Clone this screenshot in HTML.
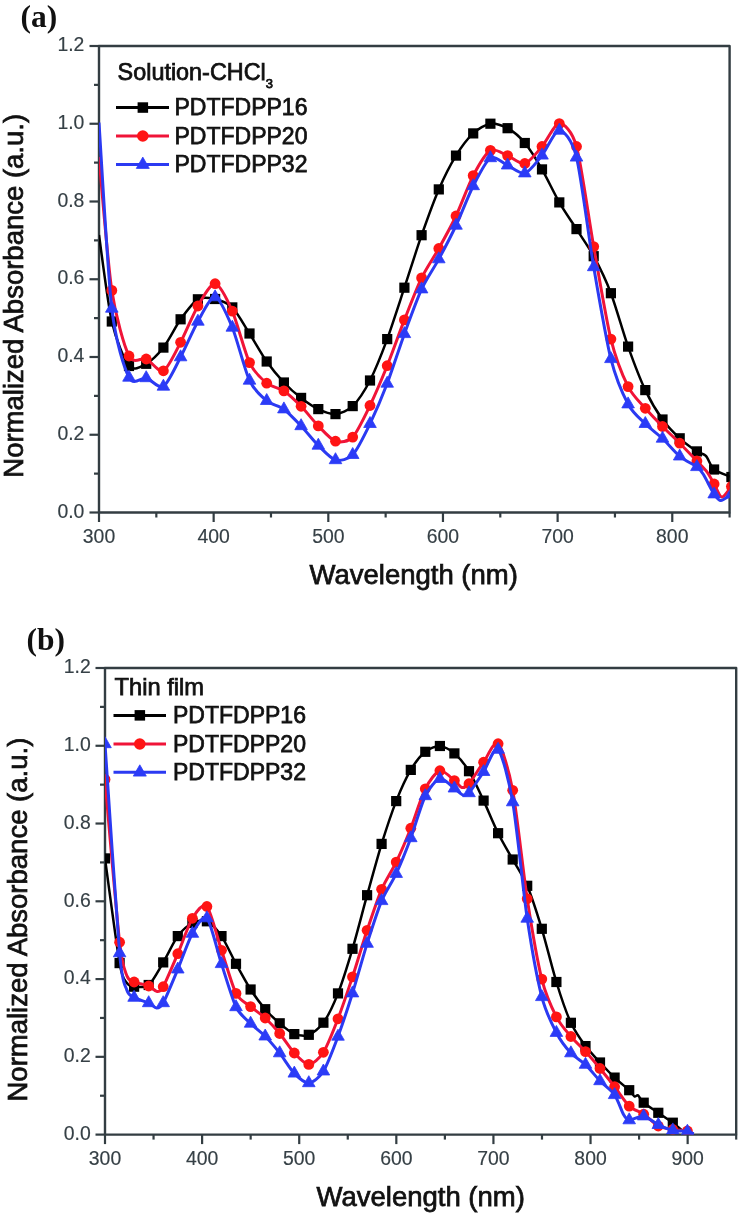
<!DOCTYPE html>
<html><head><meta charset="utf-8"><style>
html,body{margin:0;padding:0;background:#fff;}
svg{display:block;filter:blur(0.45px);}
text{font-family:"Liberation Sans",sans-serif;}
.tk{font-size:19.4px;fill:#364046;stroke:#364046;stroke-width:0.15px;}
.at{font-size:27.5px;fill:#111;stroke:#111;stroke-width:0.75px;}
.lg{font-size:23px;fill:#111;stroke:#111;stroke-width:0.75px;}
.pl{font-family:"Liberation Serif",serif;font-weight:bold;font-size:31.5px;fill:#111;}
</style></head><body>
<svg width="742" height="1216" viewBox="0 0 742 1216">
<rect width="742" height="1216" fill="#fff"/>
<clipPath id="ca"><rect x="99" y="36" width="630.6" height="476.5"/></clipPath>
<line x1="89.5" y1="512.50" x2="99" y2="512.50" stroke="#333d42" stroke-width="2.2"/>
<text x="84.4" y="517.70" text-anchor="end" class="tk">0.0</text>
<line x1="94" y1="473.62" x2="99" y2="473.62" stroke="#333d42" stroke-width="2.2"/>
<line x1="89.5" y1="434.75" x2="99" y2="434.75" stroke="#333d42" stroke-width="2.2"/>
<text x="84.4" y="439.95" text-anchor="end" class="tk">0.2</text>
<line x1="94" y1="395.88" x2="99" y2="395.88" stroke="#333d42" stroke-width="2.2"/>
<line x1="89.5" y1="357.00" x2="99" y2="357.00" stroke="#333d42" stroke-width="2.2"/>
<text x="84.4" y="362.20" text-anchor="end" class="tk">0.4</text>
<line x1="94" y1="318.12" x2="99" y2="318.12" stroke="#333d42" stroke-width="2.2"/>
<line x1="89.5" y1="279.25" x2="99" y2="279.25" stroke="#333d42" stroke-width="2.2"/>
<text x="84.4" y="284.45" text-anchor="end" class="tk">0.6</text>
<line x1="94" y1="240.38" x2="99" y2="240.38" stroke="#333d42" stroke-width="2.2"/>
<line x1="89.5" y1="201.50" x2="99" y2="201.50" stroke="#333d42" stroke-width="2.2"/>
<text x="84.4" y="206.70" text-anchor="end" class="tk">0.8</text>
<line x1="94" y1="162.62" x2="99" y2="162.62" stroke="#333d42" stroke-width="2.2"/>
<line x1="89.5" y1="123.75" x2="99" y2="123.75" stroke="#333d42" stroke-width="2.2"/>
<text x="84.4" y="128.95" text-anchor="end" class="tk">1.0</text>
<line x1="94" y1="84.87" x2="99" y2="84.87" stroke="#333d42" stroke-width="2.2"/>
<line x1="89.5" y1="46.00" x2="99" y2="46.00" stroke="#333d42" stroke-width="2.2"/>
<text x="84.4" y="51.20" text-anchor="end" class="tk">1.2</text>
<line x1="99.00" y1="512.5" x2="99.00" y2="522.0" stroke="#333d42" stroke-width="2.2"/>
<text x="99.00" y="543.2" text-anchor="middle" class="tk">300</text>
<line x1="156.33" y1="512.5" x2="156.33" y2="517.5" stroke="#333d42" stroke-width="2.2"/>
<line x1="213.65" y1="512.5" x2="213.65" y2="522.0" stroke="#333d42" stroke-width="2.2"/>
<text x="213.65" y="543.2" text-anchor="middle" class="tk">400</text>
<line x1="270.98" y1="512.5" x2="270.98" y2="517.5" stroke="#333d42" stroke-width="2.2"/>
<line x1="328.31" y1="512.5" x2="328.31" y2="522.0" stroke="#333d42" stroke-width="2.2"/>
<text x="328.31" y="543.2" text-anchor="middle" class="tk">500</text>
<line x1="385.64" y1="512.5" x2="385.64" y2="517.5" stroke="#333d42" stroke-width="2.2"/>
<line x1="442.96" y1="512.5" x2="442.96" y2="522.0" stroke="#333d42" stroke-width="2.2"/>
<text x="442.96" y="543.2" text-anchor="middle" class="tk">600</text>
<line x1="500.29" y1="512.5" x2="500.29" y2="517.5" stroke="#333d42" stroke-width="2.2"/>
<line x1="557.62" y1="512.5" x2="557.62" y2="522.0" stroke="#333d42" stroke-width="2.2"/>
<text x="557.62" y="543.2" text-anchor="middle" class="tk">700</text>
<line x1="614.95" y1="512.5" x2="614.95" y2="517.5" stroke="#333d42" stroke-width="2.2"/>
<line x1="672.27" y1="512.5" x2="672.27" y2="522.0" stroke="#333d42" stroke-width="2.2"/>
<text x="672.27" y="543.2" text-anchor="middle" class="tk">800</text>
<line x1="729.60" y1="512.5" x2="729.60" y2="517.5" stroke="#333d42" stroke-width="2.2"/>
<rect x="99" y="46" width="630.6" height="466.5" fill="none" stroke="#333d42" stroke-width="2.4" stroke-linejoin="round"/>
<g clip-path="url(#ca)"><path d="M99.0,235.0 C100.7,246.5 107.8,304.0 111.8,321.5 C115.8,339.0 124.4,360.4 129.0,366.0 C133.6,371.6 141.6,366.3 146.2,363.8 C150.8,361.3 158.8,353.5 163.4,347.6 C168.0,341.7 176.1,325.7 180.6,319.3 C185.2,312.9 193.3,302.0 197.9,299.3 C202.4,296.6 210.5,297.9 215.1,299.0 C219.6,300.1 227.7,302.8 232.3,307.4 C236.9,312.0 244.9,326.3 249.5,333.5 C254.1,340.7 262.1,355.0 266.7,361.5 C271.3,368.0 279.3,377.6 283.9,382.5 C288.5,387.4 296.5,394.4 301.1,397.9 C305.7,401.4 313.7,406.9 318.3,409.1 C322.9,411.3 330.9,414.5 335.5,414.1 C340.1,413.7 348.2,410.6 352.7,406.1 C357.3,401.6 365.4,389.4 370.0,380.5 C374.5,371.6 382.6,351.5 387.2,339.1 C391.7,326.7 399.8,301.6 404.4,287.7 C409.0,273.8 417.0,248.3 421.6,235.2 C426.2,222.1 434.2,200.0 438.8,189.4 C443.4,178.8 451.4,163.1 456.0,155.6 C460.6,148.1 468.6,137.7 473.2,133.4 C477.8,129.1 485.8,124.4 490.4,123.7 C495.0,123.0 503.0,125.6 507.6,128.2 C512.2,130.8 520.3,137.5 524.8,143.0 C529.4,148.5 537.5,161.5 542.0,169.4 C546.6,177.3 554.7,194.4 559.3,202.4 C563.8,210.4 571.9,221.9 576.5,229.1 C581.1,236.3 589.1,247.7 593.7,256.2 C598.3,264.7 606.3,281.1 610.9,293.2 C615.5,305.3 623.5,333.7 628.1,346.6 C632.7,359.5 640.7,380.4 645.3,390.1 C649.9,399.8 657.9,413.1 662.5,419.5 C667.1,425.9 675.1,434.0 679.7,438.3 C684.3,442.6 693.5,449.1 696.9,451.4 C700.4,453.7 703.6,453.5 705.9,455.9 C708.2,458.3 710.8,466.7 714.1,469.5 C717.5,472.3 729.1,476.0 731.4,477.0" fill="none" stroke="#000000" stroke-width="2.5" stroke-linejoin="round"/>
<rect x="106.7" y="316.4" width="10.2" height="10.2" fill="#000000"/>
<rect x="123.9" y="360.9" width="10.2" height="10.2" fill="#000000"/>
<rect x="141.1" y="358.7" width="10.2" height="10.2" fill="#000000"/>
<rect x="158.3" y="342.5" width="10.2" height="10.2" fill="#000000"/>
<rect x="175.5" y="314.2" width="10.2" height="10.2" fill="#000000"/>
<rect x="192.8" y="294.2" width="10.2" height="10.2" fill="#000000"/>
<rect x="210.0" y="293.9" width="10.2" height="10.2" fill="#000000"/>
<rect x="227.2" y="302.3" width="10.2" height="10.2" fill="#000000"/>
<rect x="244.4" y="328.4" width="10.2" height="10.2" fill="#000000"/>
<rect x="261.6" y="356.4" width="10.2" height="10.2" fill="#000000"/>
<rect x="278.8" y="377.4" width="10.2" height="10.2" fill="#000000"/>
<rect x="296.0" y="392.8" width="10.2" height="10.2" fill="#000000"/>
<rect x="313.2" y="404.0" width="10.2" height="10.2" fill="#000000"/>
<rect x="330.4" y="409.0" width="10.2" height="10.2" fill="#000000"/>
<rect x="347.6" y="401.0" width="10.2" height="10.2" fill="#000000"/>
<rect x="364.9" y="375.4" width="10.2" height="10.2" fill="#000000"/>
<rect x="382.1" y="334.0" width="10.2" height="10.2" fill="#000000"/>
<rect x="399.3" y="282.6" width="10.2" height="10.2" fill="#000000"/>
<rect x="416.5" y="230.1" width="10.2" height="10.2" fill="#000000"/>
<rect x="433.7" y="184.3" width="10.2" height="10.2" fill="#000000"/>
<rect x="450.9" y="150.5" width="10.2" height="10.2" fill="#000000"/>
<rect x="468.1" y="128.3" width="10.2" height="10.2" fill="#000000"/>
<rect x="485.3" y="118.6" width="10.2" height="10.2" fill="#000000"/>
<rect x="502.5" y="123.1" width="10.2" height="10.2" fill="#000000"/>
<rect x="519.7" y="137.9" width="10.2" height="10.2" fill="#000000"/>
<rect x="536.9" y="164.3" width="10.2" height="10.2" fill="#000000"/>
<rect x="554.2" y="197.3" width="10.2" height="10.2" fill="#000000"/>
<rect x="571.4" y="224.0" width="10.2" height="10.2" fill="#000000"/>
<rect x="588.6" y="251.1" width="10.2" height="10.2" fill="#000000"/>
<rect x="605.8" y="288.1" width="10.2" height="10.2" fill="#000000"/>
<rect x="623.0" y="341.5" width="10.2" height="10.2" fill="#000000"/>
<rect x="640.2" y="385.0" width="10.2" height="10.2" fill="#000000"/>
<rect x="657.4" y="414.4" width="10.2" height="10.2" fill="#000000"/>
<rect x="674.6" y="433.2" width="10.2" height="10.2" fill="#000000"/>
<rect x="691.8" y="446.3" width="10.2" height="10.2" fill="#000000"/>
<rect x="709.0" y="464.4" width="10.2" height="10.2" fill="#000000"/>
<rect x="726.3" y="471.9" width="10.2" height="10.2" fill="#000000"/></g>
<g clip-path="url(#ca)"><path d="M99.0,157.0 C100.7,174.8 107.8,263.9 111.8,290.4 C115.8,316.9 124.4,346.9 129.0,356.0 C133.6,365.1 141.6,357.0 146.2,359.0 C150.8,361.0 158.8,373.0 163.4,370.8 C168.0,368.6 176.1,350.9 180.6,342.3 C185.2,333.7 193.3,313.8 197.9,306.0 C202.4,298.2 210.5,283.0 215.1,283.7 C219.6,284.4 227.7,300.6 232.3,311.1 C236.9,321.6 244.9,353.0 249.5,362.6 C254.1,372.2 262.1,379.4 266.7,383.2 C271.3,387.0 279.3,387.8 283.9,390.9 C288.5,394.0 296.5,401.6 301.1,406.3 C305.7,411.0 313.7,421.2 318.3,425.9 C322.9,430.6 330.9,439.7 335.5,441.2 C340.1,442.7 348.2,441.9 352.7,437.1 C357.3,432.3 365.4,415.0 370.0,405.5 C374.5,396.0 382.6,377.1 387.2,365.7 C391.7,354.3 399.8,331.6 404.4,319.9 C409.0,308.2 417.0,287.4 421.6,277.9 C426.2,268.4 434.2,256.8 438.8,248.5 C443.4,240.2 451.4,225.7 456.0,216.0 C460.6,206.3 468.6,184.3 473.2,175.6 C477.8,166.9 485.8,153.1 490.4,150.4 C495.0,147.7 503.0,153.9 507.6,155.6 C512.2,157.3 520.3,164.7 524.8,163.5 C529.4,162.3 537.5,151.8 542.0,146.5 C546.6,141.2 554.7,123.6 559.3,123.6 C563.8,123.6 571.9,130.1 576.5,146.5 C581.1,162.9 589.1,220.9 593.7,246.6 C598.3,272.3 606.3,320.4 610.9,339.1 C615.5,357.8 623.5,377.4 628.1,386.6 C632.7,395.8 640.7,403.0 645.3,408.3 C649.9,413.6 657.9,421.8 662.5,426.5 C667.1,431.2 675.1,438.6 679.7,443.2 C684.3,447.8 693.3,457.2 696.9,461.0 C700.5,464.8 704.5,468.6 706.8,471.7 C709.1,474.8 712.2,480.6 714.1,484.0 C716.1,487.4 719.4,496.8 721.7,497.1 C724.0,497.4 730.1,488.0 731.4,486.6" fill="none" stroke="#f01438" stroke-width="3.0" stroke-linejoin="round"/>
<circle cx="111.8" cy="290.4" r="5.4" fill="#ff1414"/>
<circle cx="129.0" cy="356.0" r="5.4" fill="#ff1414"/>
<circle cx="146.2" cy="359.0" r="5.4" fill="#ff1414"/>
<circle cx="163.4" cy="370.8" r="5.4" fill="#ff1414"/>
<circle cx="180.6" cy="342.3" r="5.4" fill="#ff1414"/>
<circle cx="197.9" cy="306.0" r="5.4" fill="#ff1414"/>
<circle cx="215.1" cy="283.7" r="5.4" fill="#ff1414"/>
<circle cx="232.3" cy="311.1" r="5.4" fill="#ff1414"/>
<circle cx="249.5" cy="362.6" r="5.4" fill="#ff1414"/>
<circle cx="266.7" cy="383.2" r="5.4" fill="#ff1414"/>
<circle cx="283.9" cy="390.9" r="5.4" fill="#ff1414"/>
<circle cx="301.1" cy="406.3" r="5.4" fill="#ff1414"/>
<circle cx="318.3" cy="425.9" r="5.4" fill="#ff1414"/>
<circle cx="335.5" cy="441.2" r="5.4" fill="#ff1414"/>
<circle cx="352.7" cy="437.1" r="5.4" fill="#ff1414"/>
<circle cx="370.0" cy="405.5" r="5.4" fill="#ff1414"/>
<circle cx="387.2" cy="365.7" r="5.4" fill="#ff1414"/>
<circle cx="404.4" cy="319.9" r="5.4" fill="#ff1414"/>
<circle cx="421.6" cy="277.9" r="5.4" fill="#ff1414"/>
<circle cx="438.8" cy="248.5" r="5.4" fill="#ff1414"/>
<circle cx="456.0" cy="216.0" r="5.4" fill="#ff1414"/>
<circle cx="473.2" cy="175.6" r="5.4" fill="#ff1414"/>
<circle cx="490.4" cy="150.4" r="5.4" fill="#ff1414"/>
<circle cx="507.6" cy="155.6" r="5.4" fill="#ff1414"/>
<circle cx="524.8" cy="163.5" r="5.4" fill="#ff1414"/>
<circle cx="542.0" cy="146.5" r="5.4" fill="#ff1414"/>
<circle cx="559.3" cy="123.6" r="5.4" fill="#ff1414"/>
<circle cx="576.5" cy="146.5" r="5.4" fill="#ff1414"/>
<circle cx="593.7" cy="246.6" r="5.4" fill="#ff1414"/>
<circle cx="610.9" cy="339.1" r="5.4" fill="#ff1414"/>
<circle cx="628.1" cy="386.6" r="5.4" fill="#ff1414"/>
<circle cx="645.3" cy="408.3" r="5.4" fill="#ff1414"/>
<circle cx="662.5" cy="426.5" r="5.4" fill="#ff1414"/>
<circle cx="679.7" cy="443.2" r="5.4" fill="#ff1414"/>
<circle cx="696.9" cy="461.0" r="5.4" fill="#ff1414"/>
<circle cx="714.1" cy="484.0" r="5.4" fill="#ff1414"/>
<circle cx="731.4" cy="486.6" r="5.4" fill="#ff1414"/></g>
<g clip-path="url(#ca)"><path d="M99.0,122.5 C100.7,147.3 107.8,274.5 111.8,308.5 C115.8,342.5 124.4,368.2 129.0,377.5 C133.6,386.8 141.6,376.8 146.2,378.0 C150.8,379.2 158.8,389.3 163.4,386.5 C168.0,383.7 176.1,365.8 180.6,357.1 C185.2,348.4 193.3,329.5 197.9,321.5 C202.4,313.5 210.5,296.3 215.1,297.1 C219.6,297.9 227.7,316.4 232.3,327.5 C236.9,338.6 244.9,370.7 249.5,380.5 C254.1,390.3 262.1,397.0 266.7,400.8 C271.3,404.6 279.3,405.8 283.9,409.2 C288.5,412.6 296.5,421.2 301.1,426.0 C305.7,430.8 313.7,441.0 318.3,445.5 C322.9,450.0 330.9,458.8 335.5,460.0 C340.1,461.2 348.2,459.6 352.7,454.8 C357.3,450.0 365.4,433.3 370.0,423.8 C374.5,414.3 382.6,395.5 387.2,383.5 C391.7,371.5 399.8,346.5 404.4,333.9 C409.0,321.3 417.0,299.2 421.6,289.2 C426.2,279.2 434.2,267.6 438.8,259.1 C443.4,250.6 451.4,235.2 456.0,225.5 C460.6,215.8 468.6,195.0 473.2,186.0 C477.8,177.0 485.8,160.8 490.4,158.0 C495.0,155.2 503.0,163.3 507.6,165.3 C512.2,167.3 520.3,174.5 524.8,173.2 C529.4,171.9 537.5,161.1 542.0,155.4 C546.6,149.7 554.7,130.2 559.3,130.5 C563.8,130.8 571.9,139.2 576.5,157.4 C581.1,175.6 589.1,240.1 593.7,267.0 C598.3,293.9 606.3,340.6 610.9,358.9 C615.5,377.2 623.5,395.5 628.1,404.2 C632.7,412.9 640.7,419.2 645.3,423.8 C649.9,428.4 657.9,434.2 662.5,438.5 C667.1,442.8 675.1,452.5 679.7,456.3 C684.3,460.1 693.8,464.5 696.9,466.9 C700.1,469.3 701.0,470.7 703.3,474.3 C705.6,477.9 711.8,490.7 714.1,494.2 C716.5,497.7 718.5,500.6 720.8,500.6 C723.1,500.6 730.0,495.1 731.4,494.2" fill="none" stroke="#2b3af2" stroke-width="3.0" stroke-linejoin="round"/>
<path d="M111.8,301.2 L118.1,312.2 L105.5,312.2Z" fill="#2b3bf7" stroke="#2b3bf7" stroke-width="0.8" stroke-linejoin="round"/>
<path d="M129.0,370.2 L135.3,381.2 L122.7,381.2Z" fill="#2b3bf7" stroke="#2b3bf7" stroke-width="0.8" stroke-linejoin="round"/>
<path d="M146.2,370.7 L152.5,381.7 L139.9,381.7Z" fill="#2b3bf7" stroke="#2b3bf7" stroke-width="0.8" stroke-linejoin="round"/>
<path d="M163.4,379.2 L169.7,390.2 L157.1,390.2Z" fill="#2b3bf7" stroke="#2b3bf7" stroke-width="0.8" stroke-linejoin="round"/>
<path d="M180.6,349.8 L186.9,360.8 L174.3,360.8Z" fill="#2b3bf7" stroke="#2b3bf7" stroke-width="0.8" stroke-linejoin="round"/>
<path d="M197.9,314.2 L204.2,325.2 L191.6,325.2Z" fill="#2b3bf7" stroke="#2b3bf7" stroke-width="0.8" stroke-linejoin="round"/>
<path d="M215.1,289.8 L221.4,300.8 L208.8,300.8Z" fill="#2b3bf7" stroke="#2b3bf7" stroke-width="0.8" stroke-linejoin="round"/>
<path d="M232.3,320.2 L238.6,331.2 L226.0,331.2Z" fill="#2b3bf7" stroke="#2b3bf7" stroke-width="0.8" stroke-linejoin="round"/>
<path d="M249.5,373.2 L255.8,384.2 L243.2,384.2Z" fill="#2b3bf7" stroke="#2b3bf7" stroke-width="0.8" stroke-linejoin="round"/>
<path d="M266.7,393.5 L273.0,404.5 L260.4,404.5Z" fill="#2b3bf7" stroke="#2b3bf7" stroke-width="0.8" stroke-linejoin="round"/>
<path d="M283.9,401.9 L290.2,412.9 L277.6,412.9Z" fill="#2b3bf7" stroke="#2b3bf7" stroke-width="0.8" stroke-linejoin="round"/>
<path d="M301.1,418.7 L307.4,429.7 L294.8,429.7Z" fill="#2b3bf7" stroke="#2b3bf7" stroke-width="0.8" stroke-linejoin="round"/>
<path d="M318.3,438.2 L324.6,449.2 L312.0,449.2Z" fill="#2b3bf7" stroke="#2b3bf7" stroke-width="0.8" stroke-linejoin="round"/>
<path d="M335.5,452.7 L341.8,463.7 L329.2,463.7Z" fill="#2b3bf7" stroke="#2b3bf7" stroke-width="0.8" stroke-linejoin="round"/>
<path d="M352.7,447.5 L359.0,458.5 L346.4,458.5Z" fill="#2b3bf7" stroke="#2b3bf7" stroke-width="0.8" stroke-linejoin="round"/>
<path d="M370.0,416.5 L376.3,427.5 L363.7,427.5Z" fill="#2b3bf7" stroke="#2b3bf7" stroke-width="0.8" stroke-linejoin="round"/>
<path d="M387.2,376.2 L393.5,387.2 L380.9,387.2Z" fill="#2b3bf7" stroke="#2b3bf7" stroke-width="0.8" stroke-linejoin="round"/>
<path d="M404.4,326.6 L410.7,337.6 L398.1,337.6Z" fill="#2b3bf7" stroke="#2b3bf7" stroke-width="0.8" stroke-linejoin="round"/>
<path d="M421.6,281.9 L427.9,292.9 L415.3,292.9Z" fill="#2b3bf7" stroke="#2b3bf7" stroke-width="0.8" stroke-linejoin="round"/>
<path d="M438.8,251.8 L445.1,262.8 L432.5,262.8Z" fill="#2b3bf7" stroke="#2b3bf7" stroke-width="0.8" stroke-linejoin="round"/>
<path d="M456.0,218.2 L462.3,229.2 L449.7,229.2Z" fill="#2b3bf7" stroke="#2b3bf7" stroke-width="0.8" stroke-linejoin="round"/>
<path d="M473.2,178.7 L479.5,189.7 L466.9,189.7Z" fill="#2b3bf7" stroke="#2b3bf7" stroke-width="0.8" stroke-linejoin="round"/>
<path d="M490.4,150.7 L496.7,161.7 L484.1,161.7Z" fill="#2b3bf7" stroke="#2b3bf7" stroke-width="0.8" stroke-linejoin="round"/>
<path d="M507.6,158.0 L513.9,169.0 L501.3,169.0Z" fill="#2b3bf7" stroke="#2b3bf7" stroke-width="0.8" stroke-linejoin="round"/>
<path d="M524.8,165.9 L531.1,176.9 L518.5,176.9Z" fill="#2b3bf7" stroke="#2b3bf7" stroke-width="0.8" stroke-linejoin="round"/>
<path d="M542.0,148.1 L548.3,159.1 L535.8,159.1Z" fill="#2b3bf7" stroke="#2b3bf7" stroke-width="0.8" stroke-linejoin="round"/>
<path d="M559.3,123.2 L565.6,134.2 L553.0,134.2Z" fill="#2b3bf7" stroke="#2b3bf7" stroke-width="0.8" stroke-linejoin="round"/>
<path d="M576.5,150.1 L582.8,161.1 L570.2,161.1Z" fill="#2b3bf7" stroke="#2b3bf7" stroke-width="0.8" stroke-linejoin="round"/>
<path d="M593.7,259.7 L600.0,270.7 L587.4,270.7Z" fill="#2b3bf7" stroke="#2b3bf7" stroke-width="0.8" stroke-linejoin="round"/>
<path d="M610.9,351.6 L617.2,362.6 L604.6,362.6Z" fill="#2b3bf7" stroke="#2b3bf7" stroke-width="0.8" stroke-linejoin="round"/>
<path d="M628.1,396.9 L634.4,407.9 L621.8,407.9Z" fill="#2b3bf7" stroke="#2b3bf7" stroke-width="0.8" stroke-linejoin="round"/>
<path d="M645.3,416.5 L651.6,427.5 L639.0,427.5Z" fill="#2b3bf7" stroke="#2b3bf7" stroke-width="0.8" stroke-linejoin="round"/>
<path d="M662.5,431.2 L668.8,442.2 L656.2,442.2Z" fill="#2b3bf7" stroke="#2b3bf7" stroke-width="0.8" stroke-linejoin="round"/>
<path d="M679.7,449.0 L686.0,460.0 L673.4,460.0Z" fill="#2b3bf7" stroke="#2b3bf7" stroke-width="0.8" stroke-linejoin="round"/>
<path d="M696.9,459.6 L703.2,470.6 L690.6,470.6Z" fill="#2b3bf7" stroke="#2b3bf7" stroke-width="0.8" stroke-linejoin="round"/>
<path d="M714.1,486.9 L720.4,497.9 L707.9,497.9Z" fill="#2b3bf7" stroke="#2b3bf7" stroke-width="0.8" stroke-linejoin="round"/>
<path d="M731.4,486.9 L737.7,497.9 L725.1,497.9Z" fill="#2b3bf7" stroke="#2b3bf7" stroke-width="0.8" stroke-linejoin="round"/></g>
<text x="20.6" y="26.8" class="pl">(a)</text>
<text x="309.5" y="583.7" class="at">Wavelength (nm)</text>
<text transform="translate(23.4,477.7) rotate(-90)" class="at">Normalized Absorbance (a.u.)</text>
<text x="117.6" y="79.6" class="lg" style="font-size:23.4px">Solution-CHCl<tspan font-size="13" dy="8">3</tspan></text>
<line x1="116" y1="107.6" x2="169" y2="107.6" stroke="#000000" stroke-width="3.0"/>
<rect x="137.6" y="102.3" width="10.5" height="10.5" fill="#000000"/>
<text x="174.5" y="115.4" class="lg">PDTFDPP16</text>
<line x1="116" y1="136" x2="169" y2="136" stroke="#f01438" stroke-width="3.0"/>
<circle cx="142.8" cy="136.0" r="5.8" fill="#ff1414"/>
<text x="174.5" y="143.8" class="lg">PDTFDPP20</text>
<line x1="116" y1="164.6" x2="169" y2="164.6" stroke="#2b3af2" stroke-width="3.0"/>
<path d="M142.8,157.1 L149.3,168.4 L136.3,168.4Z" fill="#2b3bf7" stroke="#2b3bf7" stroke-width="0.8" stroke-linejoin="round"/>
<text x="174.5" y="172.4" class="lg">PDTFDPP32</text>
<clipPath id="cb"><rect x="105" y="658" width="631.2" height="476.5999999999999"/></clipPath>
<line x1="95.5" y1="1134.60" x2="105" y2="1134.60" stroke="#333d42" stroke-width="2.2"/>
<text x="90.8" y="1139.80" text-anchor="end" class="tk">0.0</text>
<line x1="100" y1="1095.72" x2="105" y2="1095.72" stroke="#333d42" stroke-width="2.2"/>
<line x1="95.5" y1="1056.83" x2="105" y2="1056.83" stroke="#333d42" stroke-width="2.2"/>
<text x="90.8" y="1062.03" text-anchor="end" class="tk">0.2</text>
<line x1="100" y1="1017.95" x2="105" y2="1017.95" stroke="#333d42" stroke-width="2.2"/>
<line x1="95.5" y1="979.07" x2="105" y2="979.07" stroke="#333d42" stroke-width="2.2"/>
<text x="90.8" y="984.27" text-anchor="end" class="tk">0.4</text>
<line x1="100" y1="940.18" x2="105" y2="940.18" stroke="#333d42" stroke-width="2.2"/>
<line x1="95.5" y1="901.30" x2="105" y2="901.30" stroke="#333d42" stroke-width="2.2"/>
<text x="90.8" y="906.50" text-anchor="end" class="tk">0.6</text>
<line x1="100" y1="862.42" x2="105" y2="862.42" stroke="#333d42" stroke-width="2.2"/>
<line x1="95.5" y1="823.53" x2="105" y2="823.53" stroke="#333d42" stroke-width="2.2"/>
<text x="90.8" y="828.73" text-anchor="end" class="tk">0.8</text>
<line x1="100" y1="784.65" x2="105" y2="784.65" stroke="#333d42" stroke-width="2.2"/>
<line x1="95.5" y1="745.77" x2="105" y2="745.77" stroke="#333d42" stroke-width="2.2"/>
<text x="90.8" y="750.97" text-anchor="end" class="tk">1.0</text>
<line x1="100" y1="706.88" x2="105" y2="706.88" stroke="#333d42" stroke-width="2.2"/>
<line x1="95.5" y1="668.00" x2="105" y2="668.00" stroke="#333d42" stroke-width="2.2"/>
<text x="90.8" y="673.20" text-anchor="end" class="tk">1.2</text>
<line x1="105.00" y1="1134.6" x2="105.00" y2="1144.1" stroke="#333d42" stroke-width="2.2"/>
<text x="105.00" y="1165.4" text-anchor="middle" class="tk">300</text>
<line x1="153.55" y1="1134.6" x2="153.55" y2="1139.6" stroke="#333d42" stroke-width="2.2"/>
<line x1="202.11" y1="1134.6" x2="202.11" y2="1144.1" stroke="#333d42" stroke-width="2.2"/>
<text x="202.11" y="1165.4" text-anchor="middle" class="tk">400</text>
<line x1="250.66" y1="1134.6" x2="250.66" y2="1139.6" stroke="#333d42" stroke-width="2.2"/>
<line x1="299.22" y1="1134.6" x2="299.22" y2="1144.1" stroke="#333d42" stroke-width="2.2"/>
<text x="299.22" y="1165.4" text-anchor="middle" class="tk">500</text>
<line x1="347.77" y1="1134.6" x2="347.77" y2="1139.6" stroke="#333d42" stroke-width="2.2"/>
<line x1="396.32" y1="1134.6" x2="396.32" y2="1144.1" stroke="#333d42" stroke-width="2.2"/>
<text x="396.32" y="1165.4" text-anchor="middle" class="tk">600</text>
<line x1="444.88" y1="1134.6" x2="444.88" y2="1139.6" stroke="#333d42" stroke-width="2.2"/>
<line x1="493.43" y1="1134.6" x2="493.43" y2="1144.1" stroke="#333d42" stroke-width="2.2"/>
<text x="493.43" y="1165.4" text-anchor="middle" class="tk">700</text>
<line x1="541.98" y1="1134.6" x2="541.98" y2="1139.6" stroke="#333d42" stroke-width="2.2"/>
<line x1="590.54" y1="1134.6" x2="590.54" y2="1144.1" stroke="#333d42" stroke-width="2.2"/>
<text x="590.54" y="1165.4" text-anchor="middle" class="tk">800</text>
<line x1="639.09" y1="1134.6" x2="639.09" y2="1139.6" stroke="#333d42" stroke-width="2.2"/>
<line x1="687.65" y1="1134.6" x2="687.65" y2="1144.1" stroke="#333d42" stroke-width="2.2"/>
<text x="687.65" y="1165.4" text-anchor="middle" class="tk">900</text>
<line x1="736.20" y1="1134.6" x2="736.20" y2="1139.6" stroke="#333d42" stroke-width="2.2"/>
<rect x="105" y="668" width="631.2" height="466.5999999999999" fill="none" stroke="#333d42" stroke-width="2.4" stroke-linejoin="round"/>
<g clip-path="url(#cb)"><path d="M105.0,858.4 C106.9,872.4 116.7,946.6 119.6,963.1 C122.4,979.6 124.6,979.4 126.5,982.5 C128.4,985.6 131.2,986.4 134.1,986.7 C137.1,987.0 144.8,988.2 148.7,985.0 C152.6,981.8 159.4,968.9 163.2,962.4 C167.1,955.9 173.9,941.4 177.8,936.1 C181.7,930.8 188.5,925.0 192.4,923.0 C196.2,921.0 203.0,919.6 206.9,921.3 C210.8,923.0 217.6,930.4 221.5,936.1 C225.4,941.8 232.2,956.7 236.0,963.8 C239.9,970.9 246.7,983.4 250.6,989.5 C254.5,995.6 261.3,1004.7 265.2,1009.2 C269.0,1013.7 275.8,1020.0 279.7,1023.3 C283.6,1026.6 290.4,1032.6 294.3,1034.1 C298.2,1035.6 305.0,1036.3 308.8,1034.8 C312.7,1033.3 319.5,1028.2 323.4,1022.7 C327.3,1017.2 334.1,1003.3 338.0,993.4 C341.8,983.5 348.6,961.9 352.5,948.8 C356.4,935.7 363.2,909.2 367.1,895.2 C371.0,881.2 377.8,856.4 381.6,843.9 C385.5,831.4 392.3,811.0 396.2,801.1 C400.1,791.2 406.9,776.5 410.8,769.9 C414.6,763.3 421.4,755.0 425.3,751.8 C429.2,748.6 436.0,745.8 439.9,746.0 C443.8,746.2 450.6,750.0 454.4,753.4 C458.3,756.8 465.1,764.9 469.0,771.2 C472.9,777.5 479.7,792.3 483.6,800.6 C487.4,808.9 494.2,825.3 498.1,833.2 C502.0,841.1 508.8,852.5 512.7,859.5 C516.6,866.5 523.4,876.6 527.2,885.8 C531.1,895.0 537.9,916.0 541.8,928.8 C545.7,941.6 552.5,969.5 556.4,982.0 C560.2,994.5 567.0,1014.3 570.9,1022.8 C574.8,1031.3 581.6,1040.8 585.5,1046.1 C589.4,1051.4 596.2,1058.3 600.0,1062.5 C603.9,1066.7 610.7,1073.9 614.6,1077.6 C618.5,1081.3 626.5,1087.7 629.2,1090.2 C631.8,1092.7 633.3,1095.8 634.5,1096.5 C635.7,1097.2 636.8,1094.5 638.0,1095.3 C639.2,1096.1 641.0,1100.4 643.7,1102.7 C646.4,1105.0 654.4,1110.1 658.3,1112.8 C662.2,1115.5 669.6,1120.3 672.8,1122.7 C676.0,1125.1 680.4,1129.3 682.3,1130.7 C684.2,1132.1 686.7,1132.7 687.4,1133.0" fill="none" stroke="#000000" stroke-width="2.5" stroke-linejoin="round"/>
<rect x="99.9" y="853.3" width="10.2" height="10.2" fill="#000000"/>
<rect x="114.5" y="958.0" width="10.2" height="10.2" fill="#000000"/>
<rect x="129.0" y="981.6" width="10.2" height="10.2" fill="#000000"/>
<rect x="143.6" y="979.9" width="10.2" height="10.2" fill="#000000"/>
<rect x="158.1" y="957.3" width="10.2" height="10.2" fill="#000000"/>
<rect x="172.7" y="931.0" width="10.2" height="10.2" fill="#000000"/>
<rect x="187.3" y="917.9" width="10.2" height="10.2" fill="#000000"/>
<rect x="201.8" y="916.2" width="10.2" height="10.2" fill="#000000"/>
<rect x="216.4" y="931.0" width="10.2" height="10.2" fill="#000000"/>
<rect x="230.9" y="958.7" width="10.2" height="10.2" fill="#000000"/>
<rect x="245.5" y="984.4" width="10.2" height="10.2" fill="#000000"/>
<rect x="260.1" y="1004.1" width="10.2" height="10.2" fill="#000000"/>
<rect x="274.6" y="1018.2" width="10.2" height="10.2" fill="#000000"/>
<rect x="289.2" y="1029.0" width="10.2" height="10.2" fill="#000000"/>
<rect x="303.7" y="1029.7" width="10.2" height="10.2" fill="#000000"/>
<rect x="318.3" y="1017.6" width="10.2" height="10.2" fill="#000000"/>
<rect x="332.9" y="988.3" width="10.2" height="10.2" fill="#000000"/>
<rect x="347.4" y="943.7" width="10.2" height="10.2" fill="#000000"/>
<rect x="362.0" y="890.1" width="10.2" height="10.2" fill="#000000"/>
<rect x="376.5" y="838.8" width="10.2" height="10.2" fill="#000000"/>
<rect x="391.1" y="796.0" width="10.2" height="10.2" fill="#000000"/>
<rect x="405.7" y="764.8" width="10.2" height="10.2" fill="#000000"/>
<rect x="420.2" y="746.7" width="10.2" height="10.2" fill="#000000"/>
<rect x="434.8" y="740.9" width="10.2" height="10.2" fill="#000000"/>
<rect x="449.3" y="748.3" width="10.2" height="10.2" fill="#000000"/>
<rect x="463.9" y="766.1" width="10.2" height="10.2" fill="#000000"/>
<rect x="478.5" y="795.5" width="10.2" height="10.2" fill="#000000"/>
<rect x="493.0" y="828.1" width="10.2" height="10.2" fill="#000000"/>
<rect x="507.6" y="854.4" width="10.2" height="10.2" fill="#000000"/>
<rect x="522.1" y="880.7" width="10.2" height="10.2" fill="#000000"/>
<rect x="536.7" y="923.7" width="10.2" height="10.2" fill="#000000"/>
<rect x="551.3" y="976.9" width="10.2" height="10.2" fill="#000000"/>
<rect x="565.8" y="1017.7" width="10.2" height="10.2" fill="#000000"/>
<rect x="580.4" y="1041.0" width="10.2" height="10.2" fill="#000000"/>
<rect x="594.9" y="1057.4" width="10.2" height="10.2" fill="#000000"/>
<rect x="609.5" y="1072.5" width="10.2" height="10.2" fill="#000000"/>
<rect x="624.1" y="1085.1" width="10.2" height="10.2" fill="#000000"/>
<rect x="638.6" y="1097.6" width="10.2" height="10.2" fill="#000000"/>
<rect x="653.2" y="1107.7" width="10.2" height="10.2" fill="#000000"/>
<rect x="667.7" y="1117.6" width="10.2" height="10.2" fill="#000000"/></g>
<g clip-path="url(#cb)"><path d="M105.0,779.4 C106.9,801.1 116.6,916.0 119.6,942.2 C122.5,968.4 125.1,970.7 127.0,976.0 C128.9,981.3 131.2,980.7 134.1,982.0 C137.0,983.3 145.6,984.7 148.7,986.0 C151.7,987.3 155.1,991.4 157.0,991.5 C158.9,991.6 160.5,991.7 163.2,986.7 C166.0,981.7 173.9,962.8 177.8,953.7 C181.7,944.6 188.5,924.6 192.4,918.3 C196.2,912.0 203.0,902.2 206.9,906.5 C210.8,910.8 217.6,938.7 221.5,950.3 C225.4,961.9 232.2,985.9 236.0,993.4 C239.9,1000.9 246.7,1003.3 250.6,1006.6 C254.5,1009.9 261.3,1014.4 265.2,1018.0 C269.0,1021.6 275.8,1028.8 279.7,1033.5 C283.6,1038.2 290.4,1048.9 294.3,1053.0 C298.2,1057.1 305.0,1064.5 308.8,1064.4 C312.7,1064.3 319.5,1058.4 323.4,1052.3 C327.3,1046.2 334.1,1028.9 338.0,1018.8 C341.8,1008.7 348.6,988.7 352.5,976.9 C356.4,965.1 363.2,942.0 367.1,930.3 C371.0,918.6 377.8,898.4 381.6,889.3 C385.5,880.2 392.3,870.2 396.2,862.1 C400.1,854.0 406.9,838.0 410.8,828.2 C414.6,818.4 421.4,796.5 425.3,788.8 C429.2,781.1 436.0,771.8 439.9,770.7 C443.8,769.6 451.5,778.4 454.4,780.6 C457.4,782.8 459.9,787.1 461.8,787.5 C463.7,787.9 466.1,787.1 469.0,783.7 C471.9,780.3 479.7,767.5 483.6,762.2 C487.4,756.9 494.2,740.0 498.1,743.7 C502.0,747.4 508.8,769.6 512.7,790.3 C516.6,811.0 523.4,873.5 527.2,898.7 C531.1,923.9 537.9,963.3 541.8,979.1 C545.7,994.9 552.5,1009.2 556.4,1016.9 C560.2,1024.6 567.0,1031.9 570.9,1036.5 C574.8,1041.1 581.6,1047.3 585.5,1051.6 C589.4,1055.9 596.2,1063.8 600.0,1068.5 C603.9,1073.2 610.7,1081.7 614.6,1086.7 C618.5,1091.7 625.3,1102.4 629.2,1106.1 C633.0,1109.8 639.8,1111.5 643.7,1114.2 C647.6,1116.9 654.4,1124.0 658.3,1126.0 C662.2,1128.0 669.0,1128.8 672.8,1129.5 C676.7,1130.2 684.7,1130.4 687.4,1131.0 C690.1,1131.6 692.5,1133.6 693.3,1134.0" fill="none" stroke="#f01438" stroke-width="3.0" stroke-linejoin="round"/>
<circle cx="105.0" cy="779.4" r="5.4" fill="#ff1414"/>
<circle cx="119.6" cy="942.2" r="5.4" fill="#ff1414"/>
<circle cx="134.1" cy="982.0" r="5.4" fill="#ff1414"/>
<circle cx="148.7" cy="986.0" r="5.4" fill="#ff1414"/>
<circle cx="163.2" cy="986.7" r="5.4" fill="#ff1414"/>
<circle cx="177.8" cy="953.7" r="5.4" fill="#ff1414"/>
<circle cx="192.4" cy="918.3" r="5.4" fill="#ff1414"/>
<circle cx="206.9" cy="906.5" r="5.4" fill="#ff1414"/>
<circle cx="221.5" cy="950.3" r="5.4" fill="#ff1414"/>
<circle cx="236.0" cy="993.4" r="5.4" fill="#ff1414"/>
<circle cx="250.6" cy="1006.6" r="5.4" fill="#ff1414"/>
<circle cx="265.2" cy="1018.0" r="5.4" fill="#ff1414"/>
<circle cx="279.7" cy="1033.5" r="5.4" fill="#ff1414"/>
<circle cx="294.3" cy="1053.0" r="5.4" fill="#ff1414"/>
<circle cx="308.8" cy="1064.4" r="5.4" fill="#ff1414"/>
<circle cx="323.4" cy="1052.3" r="5.4" fill="#ff1414"/>
<circle cx="338.0" cy="1018.8" r="5.4" fill="#ff1414"/>
<circle cx="352.5" cy="976.9" r="5.4" fill="#ff1414"/>
<circle cx="367.1" cy="930.3" r="5.4" fill="#ff1414"/>
<circle cx="381.6" cy="889.3" r="5.4" fill="#ff1414"/>
<circle cx="396.2" cy="862.1" r="5.4" fill="#ff1414"/>
<circle cx="410.8" cy="828.2" r="5.4" fill="#ff1414"/>
<circle cx="425.3" cy="788.8" r="5.4" fill="#ff1414"/>
<circle cx="439.9" cy="770.7" r="5.4" fill="#ff1414"/>
<circle cx="454.4" cy="780.6" r="5.4" fill="#ff1414"/>
<circle cx="469.0" cy="783.7" r="5.4" fill="#ff1414"/>
<circle cx="483.6" cy="762.2" r="5.4" fill="#ff1414"/>
<circle cx="498.1" cy="743.7" r="5.4" fill="#ff1414"/>
<circle cx="512.7" cy="790.3" r="5.4" fill="#ff1414"/>
<circle cx="527.2" cy="898.7" r="5.4" fill="#ff1414"/>
<circle cx="541.8" cy="979.1" r="5.4" fill="#ff1414"/>
<circle cx="556.4" cy="1016.9" r="5.4" fill="#ff1414"/>
<circle cx="570.9" cy="1036.5" r="5.4" fill="#ff1414"/>
<circle cx="585.5" cy="1051.6" r="5.4" fill="#ff1414"/>
<circle cx="600.0" cy="1068.5" r="5.4" fill="#ff1414"/>
<circle cx="614.6" cy="1086.7" r="5.4" fill="#ff1414"/>
<circle cx="629.2" cy="1106.1" r="5.4" fill="#ff1414"/>
<circle cx="643.7" cy="1114.2" r="5.4" fill="#ff1414"/>
<circle cx="658.3" cy="1126.0" r="5.4" fill="#ff1414"/>
<circle cx="672.8" cy="1129.5" r="5.4" fill="#ff1414"/>
<circle cx="687.4" cy="1131.0" r="5.4" fill="#ff1414"/></g>
<g clip-path="url(#cb)"><path d="M105.0,744.0 C106.9,771.9 116.7,920.3 119.6,953.1 C122.5,985.9 124.9,984.1 126.8,990.0 C128.7,995.9 131.2,995.9 134.1,997.6 C137.0,999.3 145.7,1001.6 148.7,1003.0 C151.7,1004.4 154.6,1008.0 156.5,1008.0 C158.4,1008.0 160.4,1008.2 163.2,1003.0 C166.1,997.8 173.9,978.6 177.8,969.3 C181.7,960.0 188.5,940.4 192.4,933.6 C196.2,926.8 203.0,914.1 206.9,918.1 C210.8,922.1 217.6,952.0 221.5,963.9 C225.4,975.8 232.2,999.1 236.0,1007.0 C239.9,1014.9 246.7,1019.6 250.6,1023.5 C254.5,1027.4 261.3,1032.4 265.2,1036.3 C269.0,1040.2 275.8,1048.2 279.7,1053.1 C283.6,1058.0 290.4,1069.4 294.3,1073.4 C298.2,1077.4 305.0,1083.3 308.8,1083.0 C312.7,1082.7 319.5,1077.5 323.4,1071.3 C327.3,1065.1 334.1,1046.9 338.0,1036.5 C341.8,1026.1 348.6,1005.6 352.5,993.2 C356.4,980.8 363.2,955.9 367.1,943.6 C371.0,931.3 377.8,910.2 381.6,900.9 C385.5,891.6 392.3,882.1 396.2,873.7 C400.1,865.3 406.9,848.4 410.8,838.0 C414.6,827.6 421.4,803.9 425.3,796.0 C429.2,788.1 436.0,779.8 439.9,778.8 C443.8,777.8 451.4,786.1 454.4,788.3 C457.5,790.5 461.1,794.4 463.0,795.0 C464.9,795.6 466.3,796.1 469.0,793.0 C471.7,789.9 479.7,777.6 483.6,771.8 C487.4,766.0 494.2,745.6 498.1,749.6 C502.0,753.6 508.8,779.6 512.7,802.1 C516.6,824.6 523.4,892.5 527.2,918.5 C531.1,944.5 537.9,981.7 541.8,996.9 C545.7,1012.1 552.5,1025.2 556.4,1032.7 C560.2,1040.2 567.0,1048.8 570.9,1053.1 C574.8,1057.4 581.6,1060.9 585.5,1064.6 C589.4,1068.3 596.2,1077.0 600.0,1081.0 C603.9,1085.0 611.5,1090.4 614.6,1094.9 C617.7,1099.4 621.6,1111.1 623.5,1114.5 C625.4,1117.9 626.5,1119.9 629.2,1120.1 C631.9,1120.3 639.8,1115.6 643.7,1116.2 C647.6,1116.8 654.4,1122.9 658.3,1124.8 C662.2,1126.7 669.0,1129.3 672.8,1130.2 C676.7,1131.1 684.6,1131.0 687.4,1131.5 C690.2,1132.0 692.9,1133.7 693.8,1134.0" fill="none" stroke="#2b3af2" stroke-width="3.0" stroke-linejoin="round"/>
<path d="M105.0,736.7 L111.3,747.7 L98.7,747.7Z" fill="#2b3bf7" stroke="#2b3bf7" stroke-width="0.8" stroke-linejoin="round"/>
<path d="M119.6,945.8 L125.9,956.8 L113.3,956.8Z" fill="#2b3bf7" stroke="#2b3bf7" stroke-width="0.8" stroke-linejoin="round"/>
<path d="M134.1,990.3 L140.4,1001.3 L127.8,1001.3Z" fill="#2b3bf7" stroke="#2b3bf7" stroke-width="0.8" stroke-linejoin="round"/>
<path d="M148.7,995.7 L155.0,1006.7 L142.4,1006.7Z" fill="#2b3bf7" stroke="#2b3bf7" stroke-width="0.8" stroke-linejoin="round"/>
<path d="M163.2,995.7 L169.5,1006.7 L156.9,1006.7Z" fill="#2b3bf7" stroke="#2b3bf7" stroke-width="0.8" stroke-linejoin="round"/>
<path d="M177.8,962.0 L184.1,973.0 L171.5,973.0Z" fill="#2b3bf7" stroke="#2b3bf7" stroke-width="0.8" stroke-linejoin="round"/>
<path d="M192.4,926.3 L198.7,937.3 L186.1,937.3Z" fill="#2b3bf7" stroke="#2b3bf7" stroke-width="0.8" stroke-linejoin="round"/>
<path d="M206.9,910.8 L213.2,921.8 L200.6,921.8Z" fill="#2b3bf7" stroke="#2b3bf7" stroke-width="0.8" stroke-linejoin="round"/>
<path d="M221.5,956.6 L227.8,967.6 L215.2,967.6Z" fill="#2b3bf7" stroke="#2b3bf7" stroke-width="0.8" stroke-linejoin="round"/>
<path d="M236.0,999.7 L242.3,1010.7 L229.7,1010.7Z" fill="#2b3bf7" stroke="#2b3bf7" stroke-width="0.8" stroke-linejoin="round"/>
<path d="M250.6,1016.2 L256.9,1027.2 L244.3,1027.2Z" fill="#2b3bf7" stroke="#2b3bf7" stroke-width="0.8" stroke-linejoin="round"/>
<path d="M265.2,1029.0 L271.5,1040.0 L258.9,1040.0Z" fill="#2b3bf7" stroke="#2b3bf7" stroke-width="0.8" stroke-linejoin="round"/>
<path d="M279.7,1045.8 L286.0,1056.8 L273.4,1056.8Z" fill="#2b3bf7" stroke="#2b3bf7" stroke-width="0.8" stroke-linejoin="round"/>
<path d="M294.3,1066.1 L300.6,1077.1 L288.0,1077.1Z" fill="#2b3bf7" stroke="#2b3bf7" stroke-width="0.8" stroke-linejoin="round"/>
<path d="M308.8,1075.7 L315.1,1086.7 L302.5,1086.7Z" fill="#2b3bf7" stroke="#2b3bf7" stroke-width="0.8" stroke-linejoin="round"/>
<path d="M323.4,1064.0 L329.7,1075.0 L317.1,1075.0Z" fill="#2b3bf7" stroke="#2b3bf7" stroke-width="0.8" stroke-linejoin="round"/>
<path d="M338.0,1029.2 L344.3,1040.2 L331.7,1040.2Z" fill="#2b3bf7" stroke="#2b3bf7" stroke-width="0.8" stroke-linejoin="round"/>
<path d="M352.5,985.9 L358.8,996.9 L346.2,996.9Z" fill="#2b3bf7" stroke="#2b3bf7" stroke-width="0.8" stroke-linejoin="round"/>
<path d="M367.1,936.3 L373.4,947.3 L360.8,947.3Z" fill="#2b3bf7" stroke="#2b3bf7" stroke-width="0.8" stroke-linejoin="round"/>
<path d="M381.6,893.6 L387.9,904.6 L375.3,904.6Z" fill="#2b3bf7" stroke="#2b3bf7" stroke-width="0.8" stroke-linejoin="round"/>
<path d="M396.2,866.4 L402.5,877.4 L389.9,877.4Z" fill="#2b3bf7" stroke="#2b3bf7" stroke-width="0.8" stroke-linejoin="round"/>
<path d="M410.8,830.7 L417.1,841.7 L404.5,841.7Z" fill="#2b3bf7" stroke="#2b3bf7" stroke-width="0.8" stroke-linejoin="round"/>
<path d="M425.3,788.7 L431.6,799.7 L419.0,799.7Z" fill="#2b3bf7" stroke="#2b3bf7" stroke-width="0.8" stroke-linejoin="round"/>
<path d="M439.9,771.5 L446.2,782.5 L433.6,782.5Z" fill="#2b3bf7" stroke="#2b3bf7" stroke-width="0.8" stroke-linejoin="round"/>
<path d="M454.4,781.0 L460.7,792.0 L448.1,792.0Z" fill="#2b3bf7" stroke="#2b3bf7" stroke-width="0.8" stroke-linejoin="round"/>
<path d="M469.0,785.7 L475.3,796.7 L462.7,796.7Z" fill="#2b3bf7" stroke="#2b3bf7" stroke-width="0.8" stroke-linejoin="round"/>
<path d="M483.6,764.5 L489.9,775.5 L477.3,775.5Z" fill="#2b3bf7" stroke="#2b3bf7" stroke-width="0.8" stroke-linejoin="round"/>
<path d="M498.1,742.3 L504.4,753.3 L491.8,753.3Z" fill="#2b3bf7" stroke="#2b3bf7" stroke-width="0.8" stroke-linejoin="round"/>
<path d="M512.7,794.8 L519.0,805.8 L506.4,805.8Z" fill="#2b3bf7" stroke="#2b3bf7" stroke-width="0.8" stroke-linejoin="round"/>
<path d="M527.2,911.2 L533.5,922.2 L520.9,922.2Z" fill="#2b3bf7" stroke="#2b3bf7" stroke-width="0.8" stroke-linejoin="round"/>
<path d="M541.8,989.6 L548.1,1000.6 L535.5,1000.6Z" fill="#2b3bf7" stroke="#2b3bf7" stroke-width="0.8" stroke-linejoin="round"/>
<path d="M556.4,1025.4 L562.7,1036.4 L550.1,1036.4Z" fill="#2b3bf7" stroke="#2b3bf7" stroke-width="0.8" stroke-linejoin="round"/>
<path d="M570.9,1045.8 L577.2,1056.8 L564.6,1056.8Z" fill="#2b3bf7" stroke="#2b3bf7" stroke-width="0.8" stroke-linejoin="round"/>
<path d="M585.5,1057.3 L591.8,1068.3 L579.2,1068.3Z" fill="#2b3bf7" stroke="#2b3bf7" stroke-width="0.8" stroke-linejoin="round"/>
<path d="M600.0,1073.7 L606.3,1084.7 L593.7,1084.7Z" fill="#2b3bf7" stroke="#2b3bf7" stroke-width="0.8" stroke-linejoin="round"/>
<path d="M614.6,1087.6 L620.9,1098.6 L608.3,1098.6Z" fill="#2b3bf7" stroke="#2b3bf7" stroke-width="0.8" stroke-linejoin="round"/>
<path d="M629.2,1112.8 L635.5,1123.8 L622.9,1123.8Z" fill="#2b3bf7" stroke="#2b3bf7" stroke-width="0.8" stroke-linejoin="round"/>
<path d="M643.7,1108.9 L650.0,1119.9 L637.4,1119.9Z" fill="#2b3bf7" stroke="#2b3bf7" stroke-width="0.8" stroke-linejoin="round"/>
<path d="M658.3,1117.5 L664.6,1128.5 L652.0,1128.5Z" fill="#2b3bf7" stroke="#2b3bf7" stroke-width="0.8" stroke-linejoin="round"/>
<path d="M672.8,1122.9 L679.1,1133.9 L666.5,1133.9Z" fill="#2b3bf7" stroke="#2b3bf7" stroke-width="0.8" stroke-linejoin="round"/>
<path d="M687.4,1124.2 L693.7,1135.2 L681.1,1135.2Z" fill="#2b3bf7" stroke="#2b3bf7" stroke-width="0.8" stroke-linejoin="round"/></g>
<text x="26.6" y="650" class="pl">(b)</text>
<text x="316.5" y="1205.7" class="at">Wavelength (nm)</text>
<text transform="translate(27,1101.5) rotate(-90)" class="at">Normalized Absorbance (a.u.)</text>
<text x="114.6" y="695.2" class="lg" style="font-size:23.7px">Thin film</text>
<line x1="113.5" y1="715.4" x2="166" y2="715.4" stroke="#000000" stroke-width="3.0"/>
<rect x="134.6" y="710.1" width="10.5" height="10.5" fill="#000000"/>
<text x="173" y="723.2" class="lg">PDTFDPP16</text>
<line x1="113.5" y1="744" x2="166" y2="744" stroke="#f01438" stroke-width="3.0"/>
<circle cx="139.8" cy="744.0" r="5.8" fill="#ff1414"/>
<text x="173" y="751.8" class="lg">PDTFDPP20</text>
<line x1="113.5" y1="772.3" x2="166" y2="772.3" stroke="#2b3af2" stroke-width="3.0"/>
<path d="M139.8,764.8 L146.3,776.1 L133.3,776.1Z" fill="#2b3bf7" stroke="#2b3bf7" stroke-width="0.8" stroke-linejoin="round"/>
<text x="173" y="780.1" class="lg">PDTFDPP32</text>
</svg>
</body></html>
